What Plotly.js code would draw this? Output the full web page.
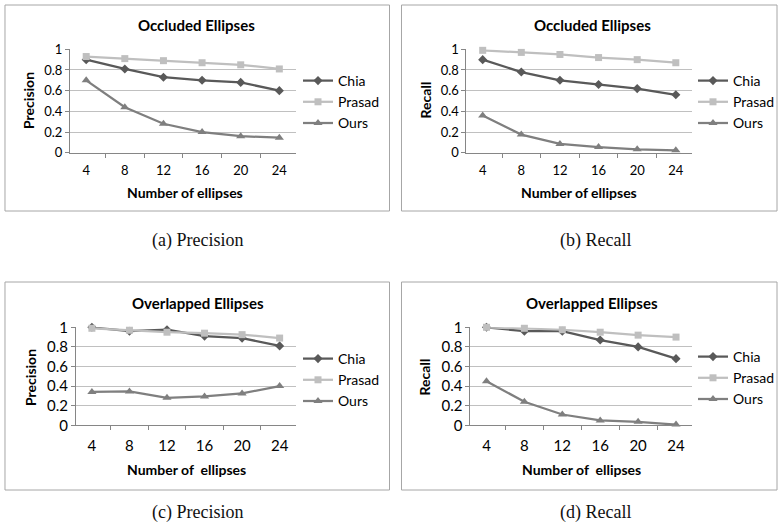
<!DOCTYPE html>
<html>
<head>
<meta charset="utf-8">
<script src="https://cdn.plot.ly/plotly-3.0.1.min.js"></script>
<style>html,body{margin:0;padding:0;background:#fff;}#chart{width:780px;height:528px;}</style>
</head>
<body>
<div id="chart"></div>
<script>
// ---- data ----
const xLabels = ['4', '8', '12', '16', '20', '24'];
const seriesNames = ['Chia', 'Prasad', 'Ours'];
const yTickVals = [0, 0.2, 0.4, 0.6, 0.8, 1];
const yTickText = ['0', '0.2', '0.4', '0.6', '0.8', '1'];

const occPrecChia   = [0.90, 0.81, 0.73, 0.70, 0.68, 0.60];
const occPrecPrasad = [0.93, 0.91, 0.89, 0.87, 0.85, 0.81];
const occPrecOurs   = [0.70, 0.44, 0.28, 0.20, 0.16, 0.145];

const occRecChia   = [0.90, 0.78, 0.70, 0.66, 0.62, 0.56];
const occRecPrasad = [0.99, 0.97, 0.95, 0.92, 0.90, 0.87];
const occRecOurs   = [0.36, 0.175, 0.085, 0.055, 0.033, 0.023];

const ovlPrecChia   = [1.00, 0.96, 0.975, 0.91, 0.89, 0.81];
const ovlPrecPrasad = [0.99, 0.97, 0.95, 0.94, 0.925, 0.89];
const ovlPrecOurs   = [0.34, 0.345, 0.28, 0.295, 0.325, 0.40];

const ovlRecChia   = [1.00, 0.96, 0.96, 0.87, 0.80, 0.68];
const ovlRecPrasad = [1.00, 0.99, 0.975, 0.95, 0.92, 0.90];
const ovlRecOurs   = [0.45, 0.24, 0.11, 0.05, 0.035, 0.007];

const panelTitles = ['Occluded Ellipses', 'Occluded Ellipses', 'Overlapped Ellipses', 'Overlapped Ellipses'];
const yTitles = ['Precision', 'Recall', 'Precision', 'Recall'];
const xTitles = ['Number of ellipses', 'Number of ellipses', 'Number of\u00a0 ellipses', 'Number of\u00a0 ellipses'];
const captions = ['(a) Precision', '(b) Recall', '(c) Precision', '(d) Recall'];

// ---- styling / layout ----
const W = 780, H = 528;
const X = p => p / W;
const Y = p => 1 - p / H;
const FONT = 'Lato, "Open Sans", sans-serif';
const styles = [
  {color: '#595959', symbol: 'diamond', size: 7},
  {color: '#bfbfbf', symbol: 'square', size: 7},
  {color: '#7f7f7f', symbol: 'triangle-up', size: 8}
];

const panels = [
  {data: [occPrecChia, occPrecPrasad, occPrecOurs], xd: [70, 296], yd: [49.3, 152.7], tick: 13, so: 6,
   title: [197, 25], ytitle: [28, 100], xtitle: [185, 193], cap: [198, 240], leg: [298, 65], box: [5, 5, 390, 211]},
  {data: [occRecChia, occRecPrasad, occRecOurs], xd: [467, 693], yd: [49.3, 152.7], tick: 13, so: 6,
   title: [593, 25], ytitle: [426, 100], xtitle: [580, 193], cap: [596, 240], leg: [694, 65], box: [402, 5, 778, 211]},
  {data: [ovlPrecChia, ovlPrecPrasad, ovlPrecOurs], xd: [76, 296], yd: [327.3, 425.3], tick: 15, so: 7,
   title: [198, 303], ytitle: [30, 377], xtitle: [187, 469], cap: [198, 512], leg: [298, 343], box: [5, 282, 390, 490]},
  {data: [ovlRecChia, ovlRecPrasad, ovlRecOurs], xd: [471, 693], yd: [327.3, 425.3], tick: 15, so: 7,
   title: [593, 303], ytitle: [425, 377], xtitle: [582, 469], cap: [596, 512], leg: [694, 341], box: [402, 282, 778, 490]}
];

const traces = [];
const layout = {
  width: W, height: H,
  margin: {l: 0, r: 0, t: 0, b: 0},
  paper_bgcolor: '#ffffff', plot_bgcolor: '#ffffff',
  font: {family: FONT, color: '#000000'},
  annotations: [], shapes: []
};

panels.forEach((p, i) => {
  const n = i + 1;
  const xa = 'xaxis' + (n === 1 ? '' : n), ya = 'yaxis' + (n === 1 ? '' : n);
  const xr = 'x' + (n === 1 ? '' : n), yr = 'y' + (n === 1 ? '' : n);
  const lg = 'legend' + (n === 1 ? '' : n);
  p.data.forEach((vals, s) => {
    traces.push({
      type: 'scatter', mode: 'lines+markers', x: xLabels, y: vals, name: seriesNames[s],
      xaxis: xr, yaxis: yr, legend: lg, cliponaxis: false,
      line: {color: styles[s].color, width: 2.25},
      marker: {color: styles[s].color, symbol: styles[s].symbol, size: styles[s].size}
    });
  });
  layout[xa] = {
    domain: [X(p.xd[0]), X(p.xd[1])], anchor: yr, type: 'category',
    categoryorder: 'array', categoryarray: xLabels,
    tickson: 'boundaries', ticks: 'outside', ticklen: 4, tickcolor: '#868686',
    ticklabelstandoff: p.so,
    showline: true, linecolor: '#868686', linewidth: 1, showgrid: false, zeroline: false,
    tickfont: {size: p.tick, family: FONT, color: '#000'}, fixedrange: true
  };
  layout[ya] = {
    domain: [Y(p.yd[1]), Y(p.yd[0])], anchor: xr, range: [0, 1],
    tickvals: yTickVals, ticktext: yTickText,
    ticks: 'outside', ticklen: 4, tickcolor: '#868686',
    showline: true, linecolor: '#868686', linewidth: 1,
    showgrid: true, gridcolor: '#c0c0c0', gridwidth: 1, zeroline: false,
    tickfont: {size: p.tick, family: FONT, color: '#000'}, fixedrange: true
  };
  layout[lg] = {
    x: X(p.leg[0]), y: Y(p.leg[1]), xanchor: 'left', yanchor: 'top',
    bgcolor: 'rgba(0,0,0,0)', font: {size: 14, family: FONT, color: '#000'},
    itemwidth: 30
  };
  layout.annotations.push(
    {text: '<b>' + panelTitles[i] + '</b>', x: X(p.title[0]), y: Y(p.title[1]), xref: 'paper', yref: 'paper',
     showarrow: false, xanchor: 'center', yanchor: 'middle', font: {size: 15, family: FONT, color: '#000'}},
    {text: '<b>' + yTitles[i] + '</b>', x: X(p.ytitle[0]), y: Y(p.ytitle[1]), xref: 'paper', yref: 'paper',
     showarrow: false, textangle: -90, xanchor: 'center', yanchor: 'middle', font: {size: 14, family: FONT, color: '#000'}},
    {text: '<b>' + xTitles[i] + '</b>', x: X(p.xtitle[0]), y: Y(p.xtitle[1]), xref: 'paper', yref: 'paper',
     showarrow: false, xanchor: 'center', yanchor: 'middle', font: {size: 14, family: FONT, color: '#000'}},
    {text: captions[i], x: X(p.cap[0]), y: Y(p.cap[1]), xref: 'paper', yref: 'paper',
     showarrow: false, xanchor: 'center', yanchor: 'middle',
     font: {size: 18, family: '"Liberation Serif", "DejaVu Serif", serif', color: '#111'}}
  );
  layout.shapes.push({
    type: 'rect', xref: 'paper', yref: 'paper',
    x0: X(p.box[0]), x1: X(p.box[2]), y0: Y(p.box[3]), y1: Y(p.box[1]),
    line: {color: '#a6a6a6', width: 1}, fillcolor: 'rgba(0,0,0,0)', layer: 'below'
  });
});

Plotly.newPlot('chart', traces, layout, {displayModeBar: false, staticPlot: true});
</script>
</body>
</html>
